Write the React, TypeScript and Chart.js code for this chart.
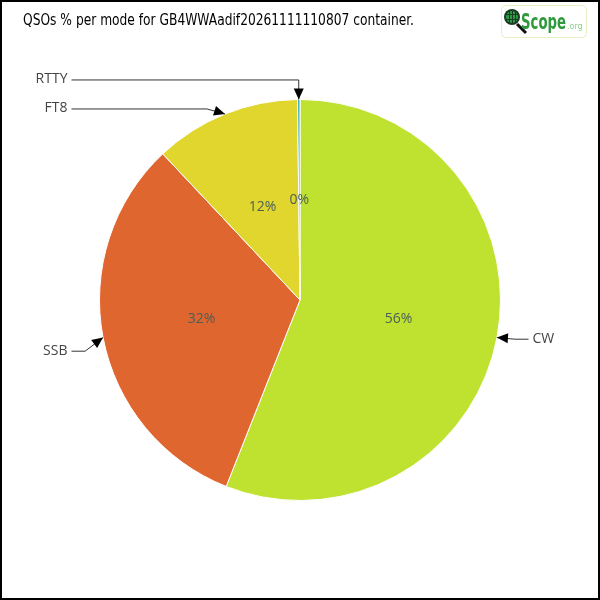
import React, { useEffect, useRef } from "react";
import { Chart, registerables } from "chart.js";

Chart.register(...registerables);

const modes = ["CW", "SSB", "FT8", "RTTY"];
const qsoCounts = [280, 160, 59, 1];
const sliceColors = ["#bee22f", "#e0662f", "#e0d62d", "#40b0b8"];
const titleText = "QSOs % per mode for GB4WWAadif20261111110807 container.";

const decorPlugin = {
  id: "decor",
  afterDraw(chart: any) {
    const ctx = chart.ctx as CanvasRenderingContext2D;
    const meta = chart.getDatasetMeta(0);
    const data = chart.data.datasets[0].data as number[];
    const total = data.reduce((a, b) => a + b, 0);

    // frame
    ctx.save();
    ctx.strokeStyle = "#000";
    ctx.lineWidth = 2;
    ctx.strokeRect(1, 1, chart.width - 2, chart.height - 2);

    // title (condensed to fit)
    ctx.fillStyle = "#000";
    ctx.font = "16px 'DejaVu Sans'";
    ctx.textBaseline = "middle";
    ctx.textAlign = "left";
    const tw = ctx.measureText(titleText).width;
    ctx.save();
    ctx.translate(23, 21);
    ctx.scale(391 / tw, 1);
    ctx.fillText(titleText, 0, 0);
    ctx.restore();

    // logo
    ctx.strokeStyle = "#e6efc4";
    ctx.lineWidth = 1;
    ctx.beginPath();
    (ctx as any).roundRect(501.5, 5.5, 85, 32, 4);
    ctx.stroke();
    ctx.strokeStyle = "#111";
    ctx.lineWidth = 3;
    ctx.beginPath();
    ctx.moveTo(517, 24);
    ctx.lineTo(526, 33);
    ctx.stroke();
    ctx.fillStyle = "#1d3b22";
    ctx.beginPath();
    ctx.arc(512, 17, 8, 0, Math.PI * 2);
    ctx.fill();
    ctx.fillStyle = "#2f9a45";
    ctx.beginPath();
    ctx.arc(512, 17, 6, 0, Math.PI * 2);
    ctx.fill();
    ctx.strokeStyle = "#1d3b22";
    ctx.lineWidth = 1;
    ctx.beginPath();
    ctx.moveTo(509.5, 11); ctx.lineTo(509.5, 23);
    ctx.moveTo(512.5, 11); ctx.lineTo(512.5, 23);
    ctx.moveTo(515.5, 11); ctx.lineTo(515.5, 23);
    ctx.moveTo(506, 14.5); ctx.lineTo(518, 14.5);
    ctx.moveTo(506, 19.5); ctx.lineTo(518, 19.5);
    ctx.stroke();
    ctx.fillStyle = "#2e9a3c";
    ctx.font = "bold 22px 'DejaVu Sans'";
    ctx.textBaseline = "alphabetic";
    const sw = ctx.measureText("Scope").width;
    ctx.save();
    ctx.translate(521, 29);
    ctx.scale(45 / sw, 1);
    ctx.fillText("Scope", 0, 0);
    ctx.restore();
    ctx.fillStyle = "#8ccf8c";
    ctx.font = "8px 'DejaVu Sans'";
    ctx.fillText(".org", 567, 29);

    // percentage labels & callouts
    const items: any[] = [];
    meta.data.forEach((arc: any, i: number) => {
      const p = arc.getProps(["x", "y", "startAngle", "endAngle", "outerRadius"], true);
      const mid = (p.startAngle + p.endAngle) / 2;
      const pct = (data[i] / total) * 100;
      ctx.fillStyle = "#4b5f58";
      ctx.font = "14px 'Open Sans'";
      ctx.textAlign = "center";
      ctx.textBaseline = "middle";
      ctx.fillText(
        Math.round(pct) + "%",
        p.x + Math.cos(mid) * p.outerRadius * 0.5,
        p.y + Math.sin(mid) * p.outerRadius * 0.5
      );
      const tipX = p.x + Math.cos(mid) * p.outerRadius;
      const tipY = p.y + Math.sin(mid) * p.outerRadius;
      const side = Math.cos(mid) >= 0 ? 1 : -1;
      const ly = tipY + (tipY - p.y) * 0.03 + (side < 0 && tipY > p.y ? 12 : 0);
      items.push({ i, tipX, tipY, side, y: ly, cx: p.x, r: p.outerRadius });
    });

    [-1, 1].forEach((side) => {
      const group = items.filter((it) => it.side === side).sort((a, b) => a.y - b.y);
      for (let k = group.length - 2; k >= 0; k--) {
        if (group[k].y > group[k + 1].y - 29) group[k].y = group[k + 1].y - 29;
      }
    });

    items.forEach((it) => {
      const textX = it.cx + it.side * (it.r + 32);
      const lineStart = it.cx + it.side * (it.r + 28);
      const dy = Math.abs(it.tipY - it.y);
      const bendX = dy > 18 ? it.tipX : it.tipX + it.side * 18;
      ctx.strokeStyle = "#333";
      ctx.lineWidth = 1;
      ctx.beginPath();
      ctx.moveTo(lineStart, it.y + 0.5);
      ctx.lineTo(bendX, it.y + 0.5);
      ctx.lineTo(it.tipX, it.tipY);
      ctx.stroke();
      const ang = Math.atan2(it.tipY - it.y, it.tipX - bendX);
      const len = 11, hw = 5;
      ctx.fillStyle = "#000";
      ctx.beginPath();
      ctx.moveTo(it.tipX, it.tipY);
      ctx.lineTo(it.tipX - len * Math.cos(ang) + hw * Math.sin(ang), it.tipY - len * Math.sin(ang) - hw * Math.cos(ang));
      ctx.lineTo(it.tipX - len * Math.cos(ang) - hw * Math.sin(ang), it.tipY - len * Math.sin(ang) + hw * Math.cos(ang));
      ctx.closePath();
      ctx.fill();
      ctx.fillStyle = "#444";
      ctx.font = "14px 'Open Sans'";
      ctx.textBaseline = "middle";
      ctx.textAlign = it.side > 0 ? "left" : "right";
      ctx.fillText(modes[it.i], textX, it.y);
    });
    ctx.restore();
  },
};

export default function App() {
  const ref = useRef<HTMLCanvasElement>(null);
  useEffect(() => {
    if (!ref.current) return;
    const chart = new Chart(ref.current, {
      type: "pie",
      data: {
        labels: modes,
        datasets: [
          {
            data: qsoCounts,
            backgroundColor: sliceColors,
            borderColor: "#ffffff",
            borderWidth: 1,
          },
        ],
      },
      options: {
        responsive: false,
        animation: false,
        layout: { padding: 99 },
        plugins: {
          legend: { display: false },
          tooltip: { enabled: false },
          title: { display: false },
        },
      },
      plugins: [decorPlugin],
    });
    return () => chart.destroy();
  }, []);
  return (
    <div style={{ position: "absolute", left: 0, top: 0, width: 600, height: 600, background: "#fff" }}>
      <canvas ref={ref} width={600} height={600} />
    </div>
  );
}
